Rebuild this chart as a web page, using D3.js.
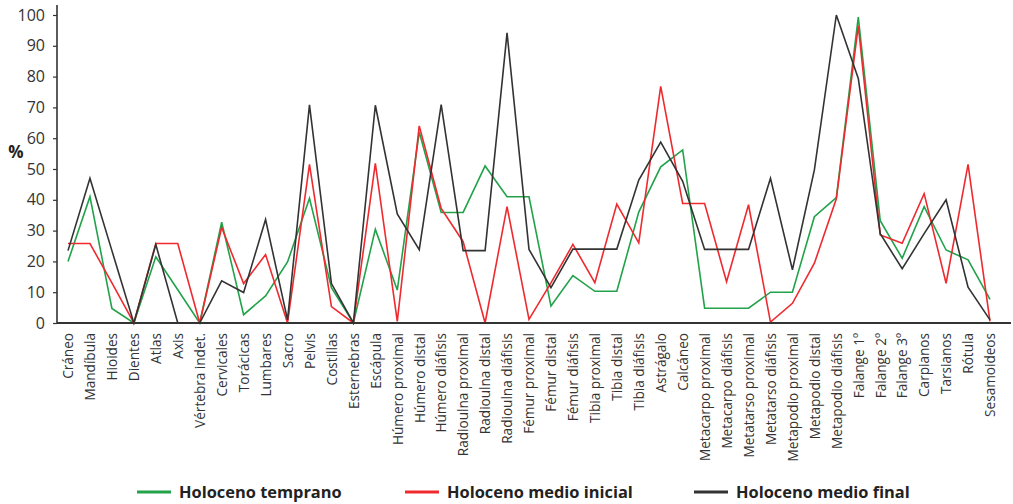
<!DOCTYPE html>
<html>
<head>
<meta charset="utf-8">
<script src="https://cdn.jsdelivr.net/npm/d3@7"></script>
<style>
  html, body { margin: 0; padding: 0; background: #fff; }
  svg { display: block; font-family: "Open Sans", "DejaVu Sans", sans-serif; }
</style>
</head>
<body>
<svg id="chart" width="1013" height="504"></svg>
<script>
// Skeletal element representation (%) by period
const categories = [
  "Cráneo", "Mandíbula", "Hioides", "Dientes", "Atlas", "Axis", "Vértebra indet.",
  "Cervicales", "Torácicas", "Lumbares", "Sacro", "Pelvis", "Costillas", "Esternebras",
  "Escápula", "Húmero proximal", "Húmero distal", "Húmero diáfisis", "Radioulna proximal",
  "Radioulna distal", "Radioulna diáfisis", "Fémur proximal", "Fémur distal", "Fémur diáfisis",
  "Tibia proximal", "Tibia distal", "Tibia diáfisis", "Astrágalo", "Calcáneo",
  "Metacarpo proximal", "Metacarpo diáfisis", "Metatarso proximal", "Metatarso diáfisis",
  "Metapodio proximal", "Metapodio distal", "Metapodio diáfisis", "Falange 1º", "Falange 2º",
  "Falange 3º", "Carpianos", "Tarsianos", "Rótula", "Sesamoideos"
];

const holocenoTemprano = [
  20, 41, 4.7, 0, 21.5, 10.8, 0,
  32.7, 2.7, 8.8, 19.8, 40.5, 11.5, 0,
  30.4, 10.7, 62, 35.9, 35.9,
  51, 41, 41, 5.5, 15.4,
  10.3, 10.3, 36, 50.7, 56.2,
  4.8, 4.8, 4.8, 10,
  10, 34.5, 40.7, 99.3, 33.2,
  21, 37.8, 23.7, 20.5, 7.7
];

const holocenoMedioInicial = [
  25.8, 25.8, 13, 0, 25.8, 25.8, 0,
  31, 12.8, 22.2, 0, 51.5, 5.3, 0,
  51.8, 0.5, 64, 37.2, 26.4,
  0, 37.8, 1.2, 13, 25.5,
  13.1, 38.6, 26, 76.8, 38.8,
  38.8, 13.4, 38.4, 0.3,
  6.4, 19.4, 40.3, 96.5, 28.6,
  25.9, 42, 12.9, 51.5, 0.5
];

const holocenoMedioFinal = [
  23.5, 47, 23.5, 0, 25.5, 0, 0,
  13.7, 9.9, 33.6, 1, 70.8, 12.8, 0,
  70.7, 35.4, 23.8, 70.9, 23.5,
  23.5, 94.2, 23.9, 11.5, 24,
  24, 24, 46.4, 58.7, 46,
  23.9, 23.9, 23.9, 47,
  17.3, 49.7, 100, 79.4, 29,
  17.6, 29, 40, 11.6, 1
];

const yTicks = [0, 10, 20, 30, 40, 50, 60, 70, 80, 90, 100];

const seriesNames = ["Holoceno temprano", "Holoceno medio inicial", "Holoceno medio final"];
const seriesColors = ["#22a24a", "#ee2a2f", "#333333"];
const seriesValues = [holocenoTemprano, holocenoMedioInicial, holocenoMedioFinal];

const svg = d3.select("#chart");

const x = d3.scalePoint().domain(categories).range([68, 990]);
const y = d3.scaleLinear().domain([0, 100]).range([323, 15]);

// Y axis
const yAxis = svg.append("g")
  .attr("transform", "translate(57,0)")
  .call(d3.axisLeft(y).tickValues(yTicks).tickSize(4).tickPadding(8));
yAxis.select(".domain").remove();
yAxis.selectAll(".tick line").attr("stroke", "#333").attr("stroke-width", 1.2);
yAxis.selectAll(".tick text")
  .attr("fill", "#333")
  .style("font-size", "16px")
  .style("font-family", "'Open Sans', sans-serif");

svg.append("line")
  .attr("x1", 57).attr("x2", 57)
  .attr("y1", 5).attr("y2", y(0))
  .attr("stroke", "#333").attr("stroke-width", 1.6);

// Y axis title
svg.append("text")
  .attr("x", 16).attr("y", 158)
  .attr("text-anchor", "middle")
  .attr("fill", "#222")
  .style("font-size", "17px")
  .style("font-weight", "bold")
  .text("%");

// Category labels
const xAxis = svg.append("g")
  .attr("transform", `translate(0,${y(0)})`)
  .call(d3.axisBottom(x).tickSize(0).tickPadding(0));
xAxis.select(".domain").remove();
xAxis.selectAll(".tick text")
  .attr("transform", "rotate(-90)")
  .attr("x", -10)
  .attr("y", 0)
  .attr("dy", "0.35em")
  .attr("text-anchor", "end")
  .attr("fill", "#333")
  .style("font-size", "13.6px")
  .style("font-family", "'Open Sans', sans-serif");

// Series lines
const line = d3.line()
  .x((d, i) => x(categories[i]))
  .y(d => y(d));

seriesValues.forEach((vals, k) => {
  svg.append("path")
    .datum(vals)
    .attr("fill", "none")
    .attr("stroke", seriesColors[k])
    .attr("stroke-width", 1.6)
    .attr("stroke-linejoin", "miter")
    .attr("d", line);
});

// Baseline
svg.append("line")
  .attr("x1", 57).attr("x2", 1011)
  .attr("y1", y(0)).attr("y2", y(0))
  .attr("stroke", "#333").attr("stroke-width", 2.2);

// Legend
const legendX = [137, 405, 694];
const legend = svg.append("g");
seriesNames.forEach((name, k) => {
  const g = legend.append("g").attr("transform", `translate(${legendX[k]},492)`);
  g.append("line")
    .attr("x1", 0).attr("x2", 34)
    .attr("y1", 0).attr("y2", 0)
    .attr("stroke", seriesColors[k]).attr("stroke-width", 3);
  g.append("text")
    .attr("x", 42).attr("y", 0)
    .attr("dy", "0.35em")
    .attr("fill", "#222")
    .style("font-size", "16.4px")
    .style("font-weight", "bold")
    .text(name);
});
</script>
</body>
</html>
